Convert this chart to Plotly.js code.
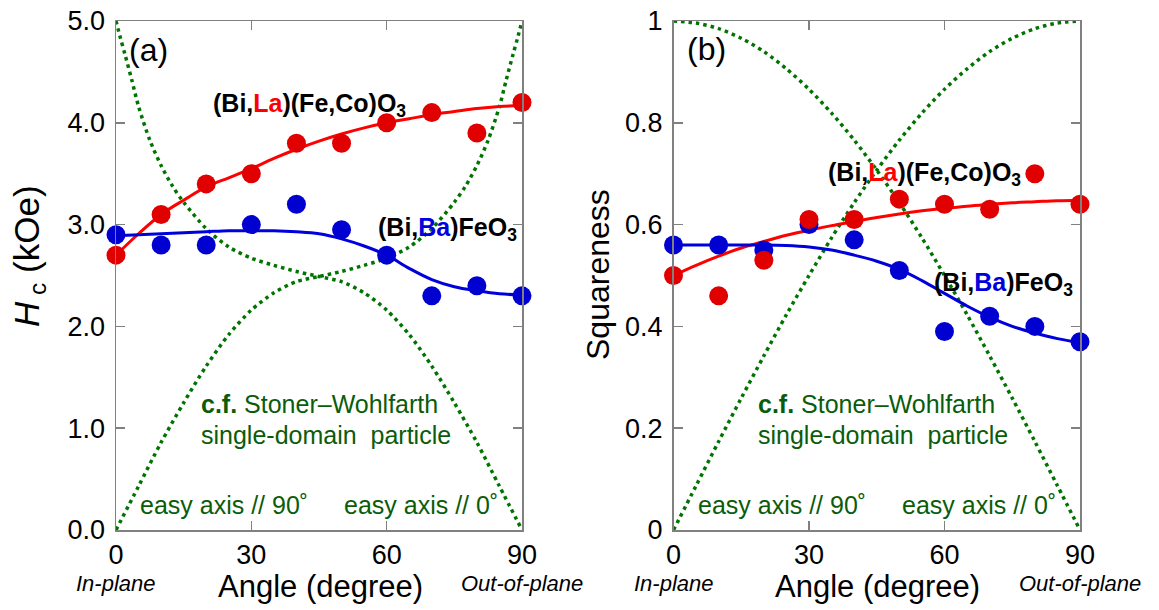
<!DOCTYPE html>
<html>
<head>
<meta charset="utf-8">
<script src="https://cdn.plot.ly/plotly-3.0.1.min.js"></script>
<style>html,body{margin:0;padding:0;background:#fff;}#chart{width:1159px;height:610px;}</style>
</head>
<body>
<div id="chart"></div>
<script>
// ---- data ----
const angles = [0, 10, 20, 30, 40, 50, 60, 70, 80, 90];

// (a) Hc (kOe)
const hcBiLa = [2.7, 3.1, 3.4, 3.5, 3.8, 3.8, 4.0, 4.1, 3.9, 4.2];
const hcBiBa = [2.9, 2.8, 2.8, 3.0, 3.2, 2.95, 2.7, 2.3, 2.4, 2.3];

// (b) Squareness
const sqBiLa = [0.50, 0.46, 0.53, 0.61, 0.61, 0.65, 0.64, 0.63, 0.70, 0.64];
const sqBiBa = [0.56, 0.56, 0.55, 0.60, 0.57, 0.51, 0.39, 0.42, 0.40, 0.37];

// fitted guide curves
const fitAngles = [0, 5, 10, 15, 20, 25, 30, 35, 40, 45, 50, 55, 60, 65, 70, 75, 80, 85, 90];
const hcFitBiLa = [2.70, 2.91, 3.10, 3.24, 3.37, 3.46, 3.55, 3.65, 3.74, 3.82, 3.89, 3.95, 4.00, 4.04, 4.08, 4.11, 4.14, 4.16, 4.17];
const hcFitBiBa = [2.89, 2.90, 2.91, 2.92, 2.93, 2.94, 2.94, 2.94, 2.93, 2.91, 2.86, 2.79, 2.70, 2.57, 2.46, 2.39, 2.35, 2.32, 2.31];
const sqFitBiLa = [0.500, 0.520, 0.538, 0.554, 0.567, 0.579, 0.589, 0.598, 0.606, 0.614, 0.621, 0.627, 0.632, 0.636, 0.640, 0.643, 0.645, 0.647, 0.648];
const sqFitBiBa = [0.560, 0.560, 0.560, 0.560, 0.560, 0.559, 0.556, 0.550, 0.540, 0.528, 0.512, 0.490, 0.465, 0.440, 0.418, 0.400, 0.387, 0.376, 0.368];

// Stoner–Wohlfarth reference curves
const swHcAngles0 = [0, 1, 2, 3.5, 5, 7.5, 10, 12.5, 15, 20, 25, 30, 35, 40, 45, 50, 55, 60, 65, 70, 75, 80, 85, 90];
const swHcEasy0   = [5.00, 4.83, 4.67, 4.42, 4.16, 3.83, 3.58, 3.38, 3.22, 2.96, 2.78, 2.67, 2.60, 2.54, 2.49, 2.44, 2.33, 2.16, 1.92, 1.61, 1.25, 0.86, 0.43, 0.00];
const swHcAngles90 = [0, 5, 10, 15, 20, 25, 30, 35, 40, 45, 50, 55, 60, 65, 70, 75, 77.5, 80, 82.5, 85, 86.5, 88, 89, 90];
const swHcEasy90   = [0.00, 0.43, 0.86, 1.25, 1.61, 1.92, 2.16, 2.33, 2.44, 2.49, 2.54, 2.60, 2.67, 2.78, 2.96, 3.22, 3.38, 3.58, 3.83, 4.16, 4.42, 4.67, 4.83, 5.00];
const swSqAngles = [0, 5, 10, 15, 20, 25, 30, 35, 40, 45, 50, 55, 60, 65, 70, 75, 80, 85, 90];
const swSqEasy0  = [1.000, 0.996, 0.985, 0.966, 0.940, 0.906, 0.866, 0.819, 0.766, 0.707, 0.643, 0.574, 0.500, 0.423, 0.342, 0.259, 0.174, 0.087, 0.000];
const swSqEasy90 = [0.000, 0.087, 0.174, 0.259, 0.342, 0.423, 0.500, 0.574, 0.643, 0.707, 0.766, 0.819, 0.866, 0.906, 0.940, 0.966, 0.985, 0.996, 1.000];

const xTicks = [0, 30, 60, 90];
const hcTicks = [0, 1, 2, 3, 4, 5];
const hcTickText = ['0.0', '1.0', '2.0', '3.0', '4.0', '5.0'];
const sqTicks = [0, 0.2, 0.4, 0.6, 0.8, 1];
const sqTickText = ['0', '0.2', '0.4', '0.6', '0.8', '1'];

// ---- styles ----
const FONT = '"Liberation Sans", Arial, sans-serif';
const GREEN = '#007400';
const GREEN_TXT = '#0a5c0a';
const RED = '#ff0000';
const RED_M = '#e00000';
const BLUE = '#0000dd';
const BLUE_M = '#0000d0';

function dotted(x, y, xa, ya) {
  return {x: x, y: y, xaxis: xa, yaxis: ya, mode: 'lines', type: 'scatter',
    line: {color: GREEN, width: 3.5, dash: '3.5px,4px', shape: 'spline', smoothing: 0.8},
    hoverinfo: 'skip', showlegend: false, cliponaxis: false};
}
function fit(x, y, c, xa, ya) {
  return {x: x, y: y, xaxis: xa, yaxis: ya, mode: 'lines', type: 'scatter',
    line: {color: c, width: 3, shape: 'spline', smoothing: 1},
    hoverinfo: 'skip', showlegend: false, cliponaxis: false};
}
function pts(x, y, c, xa, ya) {
  return {x: x, y: y, xaxis: xa, yaxis: ya, mode: 'markers', type: 'scatter',
    marker: {color: c, size: 19, line: {width: 0}},
    hoverinfo: 'skip', showlegend: false, cliponaxis: false};
}

const traces = [
  dotted(swHcAngles0, swHcEasy0, 'x', 'y'),
  dotted(swHcAngles90, swHcEasy90, 'x', 'y'),
  dotted(swSqAngles, swSqEasy0, 'x2', 'y2'),
  dotted(swSqAngles, swSqEasy90, 'x2', 'y2'),
  fit(fitAngles, hcFitBiLa, RED, 'x', 'y'),
  fit(fitAngles, hcFitBiBa, BLUE, 'x', 'y'),
  fit(fitAngles, sqFitBiLa, RED, 'x2', 'y2'),
  fit(fitAngles, sqFitBiBa, BLUE, 'x2', 'y2'),
  pts(angles, hcBiBa, BLUE_M, 'x', 'y'),
  pts(angles, hcBiLa, RED_M, 'x', 'y'),
  pts(angles, sqBiBa, BLUE_M, 'x2', 'y2'),
  pts(angles, sqBiLa, RED_M, 'x2', 'y2')
];

const axisBase = {
  showline: true, linecolor: '#808080', linewidth: 1.5, mirror: 'ticks',
  ticks: 'inside', ticklen: 9, tickwidth: 1.5, tickcolor: '#808080',
  showgrid: false, zeroline: false, fixedrange: true,
  tickfont: {family: FONT, size: 27, color: '#000'}
};

const W = 964, H = 509, L = 116, T = 21;
function px(x) { return (x - L) / W; }
function py(y) { return (T + H - y) / H; }

const txt = (o) => Object.assign({showarrow: false, xanchor: 'center', yanchor: 'middle',
  font: {family: FONT, size: 25, color: GREEN_TXT}}, o);

const LA = '<b>(Bi,<span style="color:#ff0000">La</span>)(Fe,Co)O<sub>3</sub></b>';
const BA = '<b>(Bi,<span style="color:#0000dd">Ba</span>)FeO<sub>3</sub></b>';
const BLACK25 = {family: FONT, size: 25, color: '#000'};

const annotations = [
  // panel labels
  txt({xref: 'x', yref: 'y', x: 7.3, y: 4.72, text: '(a)', font: {family: FONT, size: 32, color: '#000'}}),
  txt({xref: 'x2', yref: 'y2', x: 7.3, y: 0.945, text: '(b)', font: {family: FONT, size: 32, color: '#000'}}),
  // compound labels
  txt({xref: 'x', yref: 'y', x: 21.0, y: 4.17, xanchor: 'left', text: LA, font: BLACK25}),
  txt({xref: 'x', yref: 'y', x: 57.6, y: 2.96, xanchor: 'left', text: BA, font: BLACK25}),
  txt({xref: 'x2', yref: 'y2', x: 33.8, y: 0.70, xanchor: 'left', text: LA, font: BLACK25}),
  txt({xref: 'x2', yref: 'y2', x: 57.3, y: 0.484, xanchor: 'left', text: BA, font: BLACK25}),
  // Stoner-Wohlfarth notes
  txt({xref: 'x', yref: 'y', x: 18.3, y: 1.24, xanchor: 'left', text: '<b>c.f.</b> Stoner–Wohlfarth'}),
  txt({xref: 'x', yref: 'y', x: 18.3, y: 0.93, xanchor: 'left', text: 'single-domain  particle'}),
  txt({xref: 'x', yref: 'y', x: 4.9, y: 0.25, xanchor: 'left', text: 'easy axis // 90˚'}),
  txt({xref: 'x', yref: 'y', x: 50.1, y: 0.25, xanchor: 'left', text: 'easy axis // 0˚'}),
  txt({xref: 'x2', yref: 'y2', x: 18.3, y: 0.248, xanchor: 'left', text: '<b>c.f.</b> Stoner–Wohlfarth'}),
  txt({xref: 'x2', yref: 'y2', x: 18.3, y: 0.186, xanchor: 'left', text: 'single-domain  particle'}),
  txt({xref: 'x2', yref: 'y2', x: 4.9, y: 0.05, xanchor: 'left', text: 'easy axis // 90˚'}),
  txt({xref: 'x2', yref: 'y2', x: 50.1, y: 0.05, xanchor: 'left', text: 'easy axis // 0˚'}),
  // axis titles
  txt({xref: 'paper', yref: 'paper', x: px(29), y: py(256), textangle: -90,
       text: '<i>H</i><sub> c</sub> (kOe)', font: {family: FONT, size: 35, color: '#000'}}),
  txt({xref: 'paper', yref: 'paper', x: px(598), y: py(275), textangle: -90,
       text: 'Squareness', font: {family: FONT, size: 32, color: '#000'}}),
  txt({xref: 'paper', yref: 'paper', x: px(320), y: py(586),
       text: 'Angle (degree)', font: {family: FONT, size: 31, color: '#000'}}),
  txt({xref: 'paper', yref: 'paper', x: px(877), y: py(586),
       text: 'Angle (degree)', font: {family: FONT, size: 31, color: '#000'}}),
  txt({xref: 'paper', yref: 'paper', x: px(116), y: py(583),
       text: '<i>In-plane</i>', font: {family: FONT, size: 22, color: '#000'}}),
  txt({xref: 'paper', yref: 'paper', x: px(522), y: py(583),
       text: '<i>Out-of-plane</i>', font: {family: FONT, size: 22, color: '#000'}}),
  txt({xref: 'paper', yref: 'paper', x: px(673.5), y: py(583),
       text: '<i>In-plane</i>', font: {family: FONT, size: 22, color: '#000'}}),
  txt({xref: 'paper', yref: 'paper', x: px(1080), y: py(583),
       text: '<i>Out-of-plane</i>', font: {family: FONT, size: 22, color: '#000'}})
];

const layout = {
  width: 1159, height: 610,
  margin: {l: L, r: 1159 - L - W, t: T, b: 610 - T - H, pad: 0},
  paper_bgcolor: '#fff', plot_bgcolor: '#fff',
  showlegend: false, hovermode: false,
  font: {family: FONT},
  xaxis: Object.assign({}, axisBase, {domain: [0, px(522)], range: [0, 90], tickvals: xTicks, anchor: 'y'}),
  yaxis: Object.assign({}, axisBase, {range: [0, 5], tickvals: hcTicks, ticktext: hcTickText, anchor: 'x', ticklabelstandoff: 4}),
  xaxis2: Object.assign({}, axisBase, {domain: [px(673.5), 1], range: [0, 90], tickvals: xTicks, anchor: 'y2'}),
  yaxis2: Object.assign({}, axisBase, {range: [0, 1], tickvals: sqTicks, ticktext: sqTickText, anchor: 'x2', ticklabelstandoff: 4}),
  annotations: annotations
};

Plotly.newPlot('chart', traces, layout, {displayModeBar: false, staticPlot: true});
</script>
</body>
</html>
